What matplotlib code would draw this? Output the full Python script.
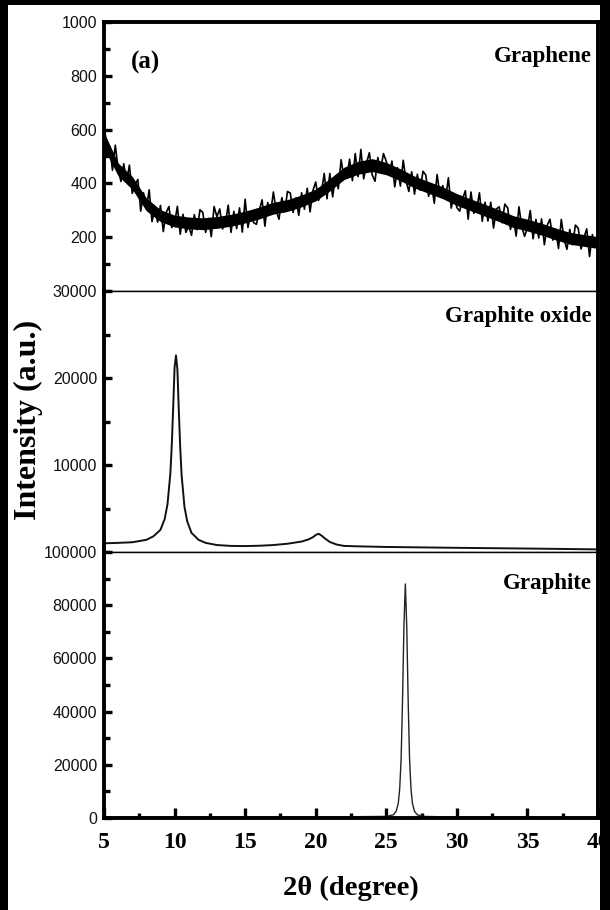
# -------------------------------------------------------------------
# plot.py: XRD patterns of graphene, graphite oxide and graphite

import matplotlib
matplotlib.use('Agg')

import matplotlib.pyplot as plt
from matplotlib.patches import Rectangle
from matplotlib.ticker import MultipleLocator
import numpy as np

# -------------------------------------------------------------------
# data

# graphene: noisy trace, one value every 0.2 degree from 5 to 40
graphene_y = [
    650, 507, 538, 449, 542, 454, 407, 473, 406, 468,
    363, 395, 415, 297, 365, 304, 376, 258, 304, 256,
    318, 221, 291, 314, 236, 251, 315, 211, 285, 218,
    241, 207, 284, 228, 302, 292, 218, 270, 202, 314,
    276, 305, 231, 251, 319, 218, 296, 232, 309, 219,
    341, 236, 293, 254, 248, 299, 339, 241, 329, 287,
    368, 298, 267, 347, 294, 370, 364, 292, 346, 281,
    365, 304, 382, 294, 373, 405, 337, 363, 437, 343,
    437, 350, 427, 380, 488, 419, 420, 490, 410, 511,
    425, 526, 417, 476, 514, 432, 408, 496, 451, 511,
    482, 432, 483, 387, 458, 390, 486, 409, 370, 443,
    360, 434, 375, 445, 431, 352, 399, 326, 433, 357,
    392, 342, 421, 308, 357, 310, 297, 341, 373, 267,
    368, 289, 303, 365, 259, 330, 260, 330, 234, 305,
    313, 254, 323, 309, 229, 276, 204, 313, 238, 203,
    236, 299, 194, 266, 197, 268, 172, 244, 267, 189,
    230, 158, 266, 191, 155, 229, 172, 245, 233, 156,
    197, 231, 128, 210, 164, 210,
]
# dense core of the graphene noise band, one value per degree 5..40
band_low = [530, 428, 378, 298, 258, 238, 231, 228, 233, 241, 253, 268,
            286, 296, 313, 335, 372, 414, 434, 444, 432, 410, 383, 363,
            343, 318, 298, 278, 258, 236, 223, 208, 190, 174, 166, 158]
band_high = [590, 476, 426, 346, 302, 282, 275, 272, 277, 285, 297, 312,
             330, 340, 357, 379, 418, 460, 482, 492, 478, 454, 427, 407,
             387, 362, 342, 322, 302, 280, 267, 252, 234, 218, 210, 202]

# graphite oxide
go_x = [5, 6, 7, 8, 8.5, 9, 9.3, 9.5, 9.7, 9.8, 9.9, 10.0, 10.1, 10.2,
        10.3, 10.4, 10.5, 10.7, 10.9, 11.2, 11.7, 12.2, 13, 14, 15, 16,
        17, 18, 19, 19.5, 19.8, 20.0, 20.2, 20.4, 20.7, 21, 21.5, 22, 23,
        25, 28, 30, 33, 36, 40]
go_y = [1000, 1050, 1120, 1400, 1800, 2550, 3800, 5500, 9000, 12200,
        16500, 21200, 22600, 21000, 16300, 12000, 8800, 5200, 3500, 2200,
        1400, 1050, 800, 700, 680, 720, 800, 950, 1200, 1450, 1700, 1950,
        2100, 1900, 1500, 1150, 850, 700, 650, 580, 520, 480, 430, 380, 300]

# graphite
gr_x = [5, 20, 25, 25.5, 25.7, 25.85, 25.95, 26.05, 26.15, 26.25, 26.35,
        26.45, 26.55, 26.65, 26.75, 26.85, 27.0, 27.2, 27.6, 30, 40]
gr_y = [300, 350, 600, 1200, 2500, 5500, 11000, 22000, 44000, 72000, 88000,
        72000, 44000, 22000, 11000, 5500, 2500, 1200, 600, 350, 250]

panel_names = ['Graphene', 'Graphite oxide', 'Graphite']

# -------------------------------------------------------------------
W, H = 610, 910
fig = plt.figure(figsize=(W / 100, H / 100), dpi=100, facecolor='black')
# white page with black edges round it
fig.patches.append(Rectangle((8 / W, 0), (600 - 8) / W, (H - 5) / H,
                             transform=fig.transFigure, facecolor='white',
                             edgecolor='none', zorder=-10))

left, width = 104 / W, 494 / W
ax1 = fig.add_axes([left, 1 - 291 / H, width, 269 / H])
ax2 = fig.add_axes([left, 1 - 552 / H, width, 261 / H], sharex=ax1)
ax3 = fig.add_axes([left, 1 - 818 / H, width, 266 / H], sharex=ax1)
axes = [ax1, ax2, ax3]

graphene_x = np.linspace(5, 40, len(graphene_y))
band_x = np.linspace(5, 40, len(band_low))
ax1.fill_between(band_x, band_low, band_high, color='black', lw=0)
ax1.plot(graphene_x, graphene_y, color='black', lw=1.2)
ax2.plot(go_x, go_y, color='#111111', lw=1.4)
ax3.plot(gr_x, gr_y, color='#222222', lw=1.0)

serif = 'Liberation Serif'
sans = 'Liberation Sans'

ax1.set_ylim(0, 1000)
ax1.set_yticks([200, 400, 600, 800, 1000])
ax1.yaxis.set_minor_locator(MultipleLocator(100))
ax2.set_ylim(0, 30000)
ax2.set_yticks([10000, 20000, 30000])
ax2.yaxis.set_minor_locator(MultipleLocator(5000))
ax3.set_ylim(0, 100000)
ax3.set_yticks(np.arange(0, 100001, 20000))
ax3.yaxis.set_minor_locator(MultipleLocator(10000))
ax3.set_xlim(5, 40)
ax3.set_xticks(np.arange(5, 41, 5))
ax3.xaxis.set_minor_locator(MultipleLocator(2.5))

label_y = [0.87, 0.904, 0.883]
for i, ax in enumerate(axes):
    for s in ax.spines.values():
        s.set_linewidth(2.8)
    ax.tick_params(axis='y', which='both', direction='in', left=True,
                   right=False, width=2.4, labelsize=11.5, pad=5,
                   labelcolor='#111111')
    ax.tick_params(axis='y', which='major', length=6)
    ax.tick_params(axis='y', which='minor', length=4)
    for lab in ax.get_yticklabels():
        lab.set_fontfamily(sans)
    ax.text(0.988, label_y[i], panel_names[i],
            transform=ax.transAxes, ha='right', va='center',
            fontfamily=serif, fontweight='bold', fontsize=16.5)
    if i < 2:
        ax.tick_params(axis='x', which='both', bottom=False, top=False,
                       labelbottom=False)
        ax.spines['bottom'].set_linewidth(1.0)
    if i > 0:
        ax.spines['top'].set_linewidth(1.0)

ax3.tick_params(axis='x', which='both', direction='in', top=False,
                width=2.4, labelsize=17, pad=10)
ax3.tick_params(axis='x', which='major', length=7)
ax3.tick_params(axis='x', which='minor', length=3.5)
for lab in ax3.get_xticklabels():
    lab.set_fontfamily(serif)
    lab.set_fontweight('bold')

ax1.text(0.083, 0.851, '(a)', transform=ax1.transAxes, ha='center',
         va='center', fontfamily=serif, fontweight='bold', fontsize=18)

fig.text(0.046, 0.538, 'Intensity (a.u.)', rotation=90, ha='center',
         va='center', fontfamily=serif, fontweight='bold', fontsize=23)
fig.text(left + width / 2, 0.024, '2θ (degree)', ha='center',
         va='center', fontfamily=serif, fontweight='bold', fontsize=20.5)

fig.savefig('out.png', dpi=100, facecolor=fig.get_facecolor())
